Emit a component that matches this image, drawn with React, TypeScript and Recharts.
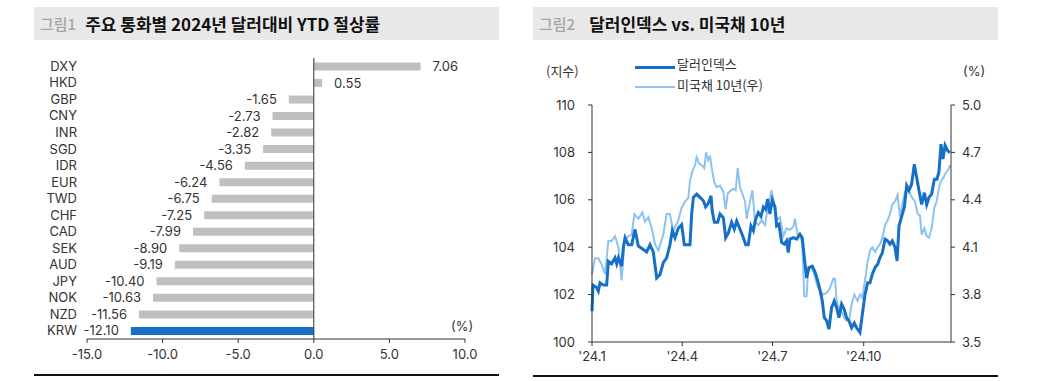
import React from 'react';
import { BarChart, Bar, XAxis, YAxis, ReferenceLine, LabelList, Cell, LineChart, Line } from 'recharts';

const FONT = '"Noto Sans CJK KR", "Noto Sans", sans-serif';
const NUM_FONT = 'Inter, "Noto Sans CJK KR", sans-serif';

// 그림1 data
const currencies = ['DXY', 'HKD', 'GBP', 'CNY', 'INR', 'SGD', 'IDR', 'EUR', 'TWD', 'CHF', 'CAD', 'SEK', 'AUD', 'JPY', 'NOK', 'NZD', 'KRW'];
const ytdChange = [7.06, 0.55, -1.65, -2.73, -2.82, -3.35, -4.56, -6.24, -6.75, -7.25, -7.99, -8.9, -9.19, -10.4, -10.63, -11.56, -12.1];
const barTicks = [-15, -10, -5, 0, 5, 10];

// 그림2 data (day of year 2024)
const dxyDays = [
  0, 1, 4.7, 6.4, 8.1, 11.4, 14.8, 16.5, 19.8, 23.2,
  24.9, 26.6, 29.9, 31.6, 33.3, 36.6, 40, 43.4, 46.7, 51.8,
  55.1, 58.5, 61.8, 65.2, 68.6, 71.9, 75.3, 78.6, 81, 83.7,
  87, 90.4, 93.1, 98.8, 100.5, 102.2, 105.5, 108.9, 112.3, 114.6,
  117.3, 120, 121.3, 123.4, 126.7, 129.1, 132.4, 134.8, 137.5, 140.8,
  143.5, 145.9, 149.2, 152.6, 155, 157.6, 160.3, 162.7, 165, 167.7,
  170.4, 172.8, 175.1, 177.1, 179.4, 181.8, 184.5, 186.2, 188.5, 191.2,
  193.9, 196.2, 197.9, 199.6, 203, 206.3, 209.7, 212, 214.1, 216.4,
  218.8, 222.1, 224.8, 227.5, 229.9, 232.2, 234.2, 236.6, 238.9, 241.6,
  244.3, 246.7, 249, 251.7, 254.1, 256.7, 259.1, 261.8, 264.5, 266.8,
  269.2, 270.2, 272.6, 275.3, 278, 280.3, 282.7, 285.4, 288.1, 290.4,
  292.8, 295.5, 298.1, 300.5, 302.8, 305.5, 307.6, 309.6, 312.3, 315,
  317.3, 319.7, 322.3, 325, 327.4, 329.7, 332.4, 335.1, 337.5, 339.8,
  342.5, 345.2, 347.9, 349.9, 351.9, 353.9, 356, 358.6, 361,
];
const dxyValues = [
  101.3, 102.4, 102.3, 102.15, 102.5, 102.4, 102.4, 103.4, 103.3, 103.55,
  103.3, 103.55, 103.2, 104.0, 104.4, 104.1, 104.1, 104.75, 104.05, 103.9,
  103.8, 104.1, 103.8, 102.7, 102.85, 103.35, 103.55, 104.1, 104.7, 104.4,
  104.8, 104.95, 104.1, 104.1, 105.4, 106.1, 106.24, 106.1, 105.96, 105.7,
  105.85, 106.17, 105.5, 105.05, 105.05, 105.4, 105.25, 104.4, 104.6, 105.05,
  104.76, 105.1, 104.76, 104.4, 104.1, 104.1, 104.9, 104.7, 105.18, 105.46,
  105.3, 105.7, 105.6, 106.03, 105.4, 106.0, 105.7, 104.9, 104.97, 104.2,
  104.13, 104.27, 103.77, 104.34, 104.4, 104.34, 104.55, 104.4, 103.56, 102.7,
  103.14, 103.2, 102.96, 102.6, 102.2, 101.73, 101.03, 100.9, 100.54, 101.45,
  101.73, 101.45, 101.03, 101.6, 101.4, 101.03, 100.9, 100.6, 100.8, 100.6,
  100.46, 100.4, 101.17, 102.0, 102.5, 102.5, 102.86, 103.14, 103.28, 103.56,
  103.77, 104.34, 104.27, 104.13, 104.27, 104.0, 103.42, 104.9, 105.3, 105.7,
  106.6, 106.4, 106.66, 107.5, 106.94, 106.4, 105.8, 106.3, 105.8, 106.1,
  106.24, 106.87, 106.87, 107.2, 108.35, 107.72, 108.3, 108.07, 108.0,
];
const ustDays = [
  0, 3, 6.4, 9.7, 13.1, 16.5, 19.8, 23.2, 26.6, 29.9,
  32.6, 35, 40, 42.7, 46.7, 50.8, 53.4, 56.8, 60.2, 63.5,
  66.9, 71.9, 75.3, 78.6, 82, 85.4, 87.1, 90.4, 93.8, 97.1,
  98.8, 101.2, 103.9, 105.5, 107.9, 110.6, 113.3, 115, 117.3, 119,
  120.7, 123.4, 125.7, 129.1, 132.4, 134.8, 136.8, 140.2, 142.5, 144.9,
  146.9, 149.2, 151.6, 154.3, 156, 159.3, 161.7, 164.4, 167.7, 171.1,
  174.4, 177.8, 181.2, 184.5, 186.2, 189.5, 192.9, 196.2, 199.6, 203,
  204.6, 207.3, 209.7, 212, 214.1, 216.4, 218.1, 221.5, 224.1, 226.5,
  229.9, 233.2, 236.6, 239.9, 243.3, 245, 246.7, 249, 252.4, 255.7,
  259.1, 261.8, 264.5, 267.8, 270.2, 272.6, 275.3, 278, 280.3, 282.7,
  285.4, 288.1, 290.4, 292.8, 295.5, 298.1, 300.5, 302.8, 305.5, 308.2,
  310.6, 312.9, 315.6, 318.3, 320.7, 323, 325.7, 328.4, 330.7, 332.4,
  335.1, 337.5, 339.8, 342.5, 345.2, 347.5, 349.9, 351.9, 354.3, 356.6,
  359.3, 361,
];
const ustValues = [
  3.93, 4.03, 4.03, 3.99, 3.93, 4.14, 4.14, 4.17, 4.1, 3.89,
  4.12, 4.16, 4.18, 4.31, 4.28, 4.32, 4.26, 4.29, 4.22, 4.12,
  4.08, 4.18, 4.31, 4.31, 4.2, 4.25, 4.27, 4.35, 4.39, 4.41,
  4.52, 4.58, 4.62, 4.67, 4.63, 4.62, 4.6, 4.7, 4.65, 4.68,
  4.6, 4.51, 4.48, 4.49, 4.45, 4.34, 4.44, 4.46, 4.47, 4.46,
  4.6, 4.48, 4.44, 4.39, 4.28, 4.39, 4.46, 4.26, 4.24, 4.27,
  4.24, 4.37, 4.46, 4.33, 4.27, 4.29, 4.17, 4.22, 4.21, 4.23,
  4.28, 4.18, 4.18, 4.12, 3.79, 3.79, 3.97, 3.97, 3.93, 3.87,
  3.82, 3.8, 3.81, 3.84, 3.9, 3.9, 3.76, 3.72, 3.68, 3.64,
  3.63, 3.74, 3.8, 3.76, 3.8, 3.78, 3.89, 4.01, 4.08, 4.1,
  4.07, 4.1, 4.12, 4.16, 4.24, 4.27, 4.31, 4.37, 4.39, 4.43,
  4.29, 4.37, 4.45, 4.46, 4.44, 4.41, 4.39, 4.31, 4.3, 4.18,
  4.22, 4.17, 4.16, 4.22, 4.35, 4.39, 4.48, 4.52, 4.54, 4.57,
  4.59, 4.62,
];
const monthTicks = [0, 91, 182, 274];
const monthLabels = ["'24.1", "'24.4", "'24.7", "'24.10"];
const leftTicks = [100, 102, 104, 106, 108, 110];
const rightTicks = [3.5, 3.8, 4.1, 4.4, 4.7, 5.0];

const barRows = currencies.map((name, i) => ({ name, value: ytdChange[i] }));
const lineRows = [
  ...dxyDays.map((day, i) => ({ day, dxy: dxyValues[i] })),
  ...ustDays.map((day, i) => ({ day, ust: ustValues[i] })),
].sort((a, b) => a.day - b.day);

const DARK = '#1670C6';
const LIGHT = '#8DC2F1';
const GREY_BAR = '#BFBFBF';
const TXT = '#333';

const ValueLabel = (props: any) => {
  const { x, y, width, height, value } = props;
  const left = Math.min(x, x + width);
  const right = Math.max(x, x + width);
  const pos = value >= 0;
  return (
    <text
      x={pos ? right + 12 : left - 12}
      y={y + height / 2}
      dy="0.35em"
      textAnchor={pos ? 'start' : 'end'}
      fontSize={13}
      fill={TXT}
      fontFamily={NUM_FONT}
    >
      {Number(value).toFixed(2)}
    </text>
  );
};

const TitleBar = ({ left, width, tag, title, gap }: { left: number; width: number; tag: string; title: string; gap: number }) => (
  <div
    style={{
      position: 'absolute', left, top: 7, width, height: 33, background: '#E8E8E8',
      display: 'flex', alignItems: 'center', fontFamily: FONT, fontWeight: 700, fontSize: 17,
    }}
  >
    <span style={{ color: '#A6A6A6', marginLeft: 6, marginRight: gap, fontSize: 15, fontWeight: 500 }}>{tag}</span>
    <span style={{ color: '#111' }}>{title}</span>
  </div>
);

const abs = (left: number, top: number, extra: React.CSSProperties = {}): React.CSSProperties => ({
  position: 'absolute', left, top, fontFamily: NUM_FONT, fontSize: 13, color: TXT, lineHeight: '16px', whiteSpace: 'nowrap', ...extra,
});

export default function App() {
  const tickStyle = { fill: TXT, fontSize: 13, fontFamily: NUM_FONT };
  return (
    <div style={{ position: 'absolute', left: 0, top: 0, width: 1050, height: 381, background: '#fff', overflow: 'hidden' }}>
      <TitleBar left={34} width={465} tag="그림1" title="주요 통화별 2024년 달러대비 YTD 절상률" gap={9} />
      <TitleBar left={533} width={465} tag="그림2" title="달러인덱스 vs. 미국채 10년" gap={14} />

      {/* 그림1 */}
      <div style={{ position: 'absolute', left: 0, top: 0 }}>
        <BarChart
          width={520}
          height={381}
          data={barRows}
          layout="vertical"
          margin={{ top: 58, right: 55, bottom: 12, left: 27 }}
          barCategoryGap="27%"
        >
          <XAxis
            type="number"
            domain={[-15, 10]}
            ticks={barTicks}
            tickFormatter={(v: number) => v.toFixed(1)}
            tick={tickStyle}
            axisLine={{ stroke: TXT }}
            tickLine={{ stroke: TXT }}
            tickSize={4}
            tickMargin={7}
            height={30}
            interval={0}
          />
          <YAxis
            type="category"
            dataKey="name"
            width={60}
            axisLine={false}
            tickLine={false}
            tick={tickStyle}
            tickMargin={4}
            interval={0}
          />
          <ReferenceLine x={0} stroke={TXT} strokeWidth={1} />
          <Bar dataKey="value" isAnimationActive={false}>
            {barRows.map((r) => (
              <Cell key={r.name} fill={r.name === 'KRW' ? DARK : GREY_BAR} />
            ))}
            <LabelList dataKey="value" content={ValueLabel} />
          </Bar>
        </BarChart>
      </div>
      <div style={abs(451, 318)}>(%)</div>
      <div style={{ position: 'absolute', left: 34, top: 374, width: 465, height: 1.5, background: '#111' }} />

      {/* 그림2 */}
      <div style={{ position: 'absolute', left: 530, top: 0 }}>
        <LineChart width={520} height={381} data={lineRows} margin={{ top: 105, right: 59, bottom: 11, left: 22 }}>
          <XAxis
            type="number"
            dataKey="day"
            domain={[0, 362]}
            ticks={monthTicks}
            tickFormatter={(v: number) => monthLabels[monthTicks.indexOf(v)]}
            tick={tickStyle}
            axisLine={{ stroke: TXT }}
            tickLine={{ stroke: TXT }}
            tickSize={4}
            tickMargin={6}
            height={28}
            interval={0}
          />
          <YAxis
            yAxisId="left"
            domain={[100, 110]}
            ticks={leftTicks}
            tick={tickStyle}
            axisLine={{ stroke: TXT }}
            tickLine={{ stroke: TXT }}
            tickSize={4}
            tickMargin={13}
            width={40}
            interval={0}
          />
          <YAxis
            yAxisId="right"
            orientation="right"
            domain={[3.5, 5.0]}
            ticks={rightTicks}
            tickFormatter={(v: number) => v.toFixed(1)}
            tick={tickStyle}
            axisLine={{ stroke: TXT }}
            tickLine={{ stroke: TXT }}
            tickSize={4}
            tickMargin={7}
            width={40}
            interval={0}
          />
          <Line
            yAxisId="right"
            dataKey="ust"
            stroke={LIGHT}
            strokeWidth={2}
            dot={false}
            activeDot={false}
            connectNulls
            isAnimationActive={false}
          />
          <Line
            yAxisId="left"
            dataKey="dxy"
            stroke={DARK}
            strokeWidth={3}
            dot={false}
            activeDot={false}
            connectNulls
            isAnimationActive={false}
          />
        </LineChart>
      </div>
      <div style={abs(546, 63, { fontFamily: FONT })}>(지수)</div>
      <div style={abs(963, 63)}>(%)</div>
      <div style={{ position: 'absolute', left: 635, top: 66, width: 40, height: 3, background: DARK }} />
      <div style={abs(677, 56, { fontFamily: FONT })}>달러인덱스</div>
      <div style={{ position: 'absolute', left: 635, top: 86, width: 40, height: 2, background: LIGHT }} />
      <div style={abs(677, 77, { fontFamily: FONT })}>미국채 10년(우)</div>
      <div style={{ position: 'absolute', left: 533, top: 375, width: 465, height: 1.5, background: '#111' }} />
    </div>
  );
}
